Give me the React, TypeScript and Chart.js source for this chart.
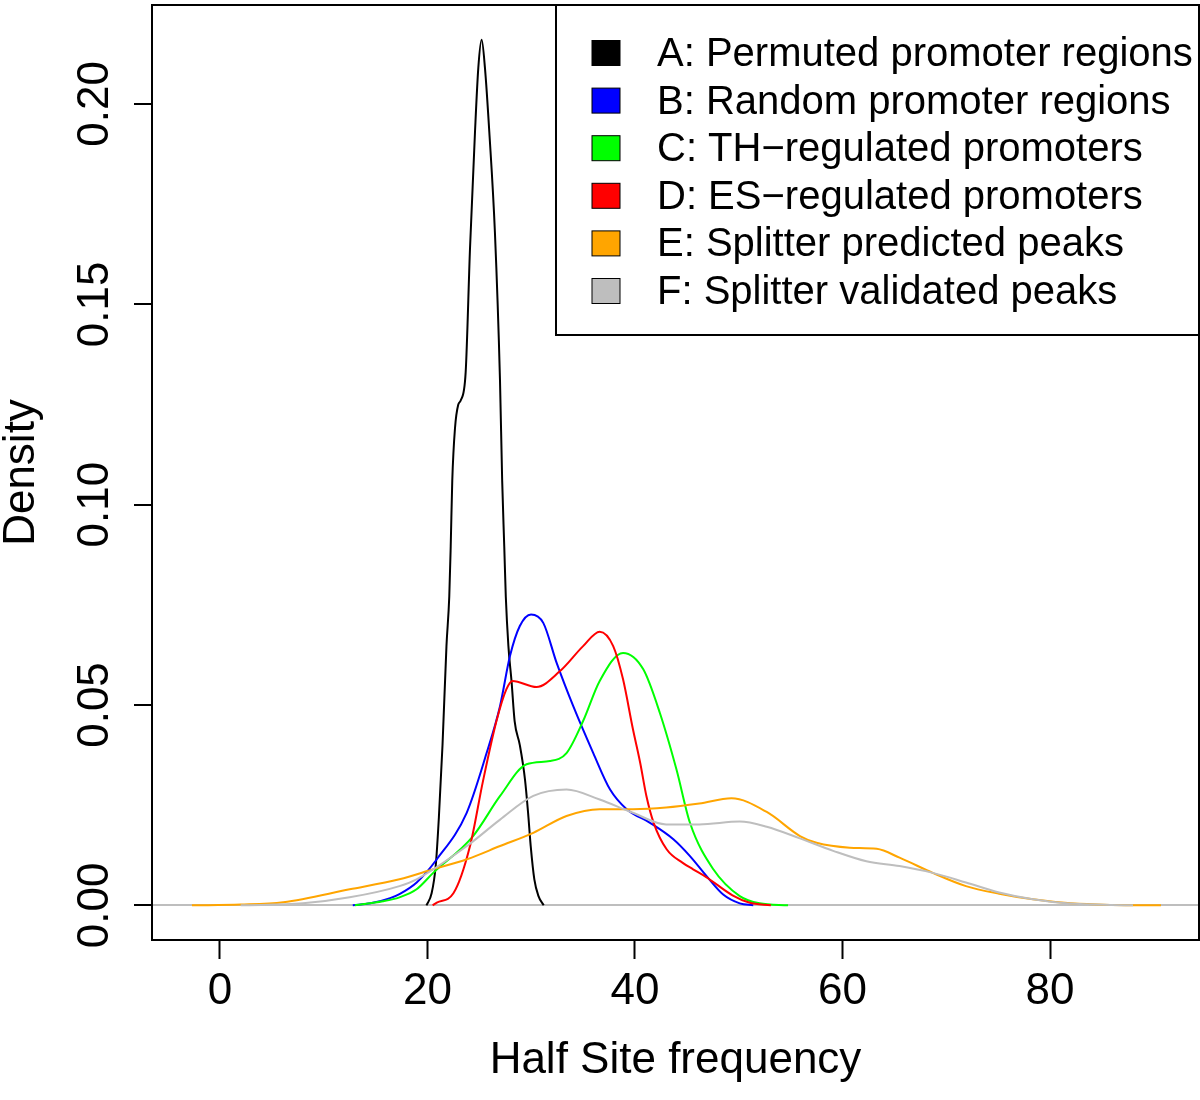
import { useEffect, useRef } from 'react';
import { Chart, registerables } from 'chart.js';

Chart.register(...registerables);

const xTicks = [0, 20, 40, 60, 80];
const yTicks = [0, 0.05, 0.1, 0.15, 0.2];

const seriesLabels = [
  'A: Permuted promoter regions',
  'B: Random promoter regions',
  'C: TH\u2212regulated promoters',
  'D: ES\u2212regulated promoters',
  'E: Splitter predicted peaks',
  'F: Splitter validated peaks',
];
const seriesColors = ['#000000', '#0000FF', '#00FF00', '#FF0000', '#FFA500', '#BEBEBE'];

const aX = [19.9, 20.4, 20.8, 21.1, 21.45, 21.83, 22.1, 22.24, 22.39, 22.65, 22.97, 23.2, 23.68, 24.1, 24.58, 24.9, 25.22, 25.54, 25.96, 26.5, 26.99, 27.2, 27.4, 27.55, 27.8, 28.1, 28.4, 28.9, 29.4, 29.7, 29.95, 30.3, 30.7, 31.2];
const aY = [0, 0.003, 0.01, 0.022, 0.04, 0.0647, 0.077, 0.0896, 0.106, 0.119, 0.125, 0.126, 0.133, 0.164, 0.193, 0.209, 0.216, 0.209, 0.193, 0.168, 0.131, 0.106, 0.0896, 0.077, 0.0647, 0.056, 0.046, 0.04, 0.0314, 0.023, 0.0148, 0.0065, 0.0023, 0];

const bX = [12.8, 14.5, 16.4, 17.3, 18.96, 20.9, 23.78, 25.7, 26.99, 27.95, 28.9, 29.98, 31.16, 32.45, 34.05, 35.98, 37.6, 39.2, 41.45, 43.7, 45.3, 46.9, 48.5, 50.1, 51.4];
const bY = [0, 0.0005, 0.0018, 0.0028, 0.0057, 0.0115, 0.0231, 0.038, 0.0497, 0.0622, 0.0697, 0.0726, 0.0705, 0.0605, 0.0497, 0.038, 0.0289, 0.024, 0.0206, 0.0165, 0.0123, 0.0073, 0.0027, 0.0005, 0];

const cX = [13.0, 15.7, 17.3, 18.95, 20.55, 24.4, 27.0, 29.55, 31.8, 33.4, 35.0, 36.6, 38.85, 40.8, 42.4, 44.0, 45.3, 47.55, 50.1, 52.0, 54.75];
const cY = [0, 0.001, 0.002, 0.004, 0.0081, 0.0173, 0.0273, 0.0352, 0.036, 0.038, 0.046, 0.056, 0.063, 0.0589, 0.048, 0.0339, 0.0206, 0.009, 0.0023, 0.0005, 0];

const dX = [20.5, 20.9, 22.5, 24.1, 25.35, 26.65, 27.6, 28.2, 30.5, 32.75, 35.0, 36.6, 37.9, 38.85, 39.8, 40.5, 41.1, 41.8, 43.05, 44.6, 45.6, 46.9, 49.4, 51.0, 53.1];
const dY = [0, 0.0007, 0.003, 0.0148, 0.031, 0.046, 0.0539, 0.056, 0.0545, 0.0584, 0.0647, 0.0683, 0.0647, 0.0564, 0.044, 0.0356, 0.0273, 0.0206, 0.014, 0.0106, 0.009, 0.007, 0.0025, 0.0007, 0];

const eX = [-2.7, 2.0, 6.1, 12.5, 17.3, 20.55, 23.8, 27.0, 30.2, 33.4, 36.6, 39.8, 43.0, 46.2, 49.3, 52.7, 55.9, 57.5, 60.7, 63.3, 65.5, 68.7, 71.9, 75.1, 78.35, 82.0, 86.0, 90.7];
const eY = [0, 0.0002, 0.0008, 0.004, 0.0065, 0.009, 0.0115, 0.0148, 0.0181, 0.0223, 0.024, 0.024, 0.0244, 0.0254, 0.0267, 0.0233, 0.0173, 0.0156, 0.0144, 0.0141, 0.0119, 0.0081, 0.0048, 0.0029, 0.0015, 0.0005, 0.0001, 0];

const fX = [2.0, 8.0, 12.5, 17.3, 18.95, 23.8, 27.0, 30.2, 33.4, 36.6, 39.8, 43.0, 46.2, 50.1, 52.7, 55.9, 59.1, 62.3, 65.5, 68.7, 71.9, 75.1, 78.35, 81.6, 88.0];
const fY = [0, 0.0005, 0.002, 0.0048, 0.0065, 0.0148, 0.0214, 0.0273, 0.0289, 0.0264, 0.0231, 0.0202, 0.0202, 0.0209, 0.0196, 0.0167, 0.0136, 0.011, 0.0098, 0.0081, 0.0057, 0.0032, 0.0015, 0.0005, 0];

const seriesX = [aX, bX, cX, dX, eX, fX];
const seriesY = [aY, bY, cY, dY, eY, fY];

const FONT = "'Liberation Sans', Arial, Helvetica, sans-serif";

const boxPlugin = {
  id: 'rbox',
  afterDatasetsDraw(chart: any) {
    const { ctx, chartArea } = chart;
    ctx.save();
    ctx.strokeStyle = '#000';
    ctx.lineWidth = 2;
    ctx.strokeRect(chartArea.left, chartArea.top, chartArea.right - chartArea.left, chartArea.bottom - chartArea.top);
    ctx.restore();
  },
};

const legendPlugin = {
  id: 'rlegend',
  afterDraw(chart: any) {
    const { ctx, chartArea } = chart;
    const w = 643;
    const h = 330;
    const left = chartArea.right - w;
    const top = chartArea.top;
    ctx.save();
    ctx.strokeStyle = '#000';
    ctx.lineWidth = 2;
    ctx.strokeRect(left, top, w, h);
    chart.data.datasets.forEach((ds: any, i: number) => {
      const cy = top + 48 + i * 47.6;
      ctx.fillStyle = ds.borderColor;
      ctx.fillRect(left + 36, cy - 12.5, 28, 25);
      ctx.lineWidth = 1;
      ctx.strokeStyle = '#000';
      ctx.strokeRect(left + 36, cy - 12.5, 28, 25);
      ctx.fillStyle = '#000';
      ctx.font = `40px ${FONT}`;
      ctx.textBaseline = 'middle';
      ctx.textAlign = 'left';
      ctx.fillText(ds.label, left + 101, cy + 2);
    });
    ctx.restore();
  },
};

const clearPadding = (scale: any) => {
  scale.paddingTop = 0;
  scale.paddingBottom = 0;
  scale.paddingLeft = 0;
  scale.paddingRight = 0;
};

export default function App() {
  const ref = useRef<HTMLCanvasElement>(null);
  useEffect(() => {
    const canvas = ref.current!;
    const datasets = seriesLabels.map((label, i) => ({
      label,
      data: seriesX[i].map((x, j) => ({ x, y: seriesY[i][j] })),
      borderColor: seriesColors[i],
      backgroundColor: seriesColors[i],
      borderWidth: 2,
      pointRadius: 0,
      fill: false,
      cubicInterpolationMode: 'monotone' as const,
      order: seriesLabels.length - i,
    }));
    const chart = new Chart(canvas, {
      type: 'line',
      data: { datasets },
      plugins: [boxPlugin, legendPlugin],
      options: {
        responsive: false,
        animation: false,
        devicePixelRatio: 1,
        layout: { padding: { left: 0, top: 5, right: 1, bottom: 0 } },
        plugins: { legend: { display: false }, tooltip: { enabled: false } },
        scales: {
          x: {
            type: 'linear',
            min: -6.55,
            max: 94.36,
            afterBuildTicks: (scale: any) => {
              scale.ticks = xTicks.map((v) => ({ value: v }));
            },
            afterFit: (scale: any) => {
              scale.height = 160;
              clearPadding(scale);
            },
            border: { display: false },
            grid: {
              drawOnChartArea: false,
              drawTicks: true,
              tickLength: 19,
              tickColor: '#000',
              tickWidth: 2,
            },
            ticks: {
              autoSkip: false,
              maxRotation: 0,
              minRotation: 0,
              padding: 6,
              color: '#000',
              font: { family: FONT, size: 44 },
              callback: (v: any) => String(v),
            },
            title: {
              display: true,
              text: 'Half Site frequency',
              color: '#000',
              font: { family: FONT, size: 44 },
              padding: { top: 0, bottom: 13 },
            },
          },
          y: {
            type: 'linear',
            min: -0.00865,
            max: 0.2247,
            afterBuildTicks: (scale: any) => {
              scale.ticks = yTicks.map((v) => ({ value: v }));
            },
            afterFit: (scale: any) => {
              scale.width = 152;
              clearPadding(scale);
            },
            border: { display: false },
            grid: {
              drawOnChartArea: true,
              drawTicks: true,
              tickLength: 18,
              tickColor: '#000',
              tickWidth: 2,
              lineWidth: 2,
              color: (ctx: any) => (ctx.tick && ctx.tick.value === 0 ? '#BEBEBE' : 'rgba(0,0,0,0)'),
            },
            ticks: {
              autoSkip: false,
              minRotation: 90,
              maxRotation: 90,
              crossAlign: 'center',
              padding: -5,
              color: '#000',
              font: { family: FONT, size: 44 },
              callback: (v: any) => Number(v).toFixed(2),
            },
            title: {
              display: true,
              text: 'Density',
              color: '#000',
              font: { family: FONT, size: 44, lineHeight: 1 },
              padding: { top: 0, bottom: 0 },
            },
          },
        },
      },
    } as any);
    return () => chart.destroy();
  }, []);
  return (
    <div style={{ position: 'absolute', left: 0, top: 0, width: 1200, height: 1100, background: '#fff' }}>
      <canvas ref={ref} width={1200} height={1100} style={{ display: 'block', width: 1200, height: 1100 }} />
    </div>
  );
}
